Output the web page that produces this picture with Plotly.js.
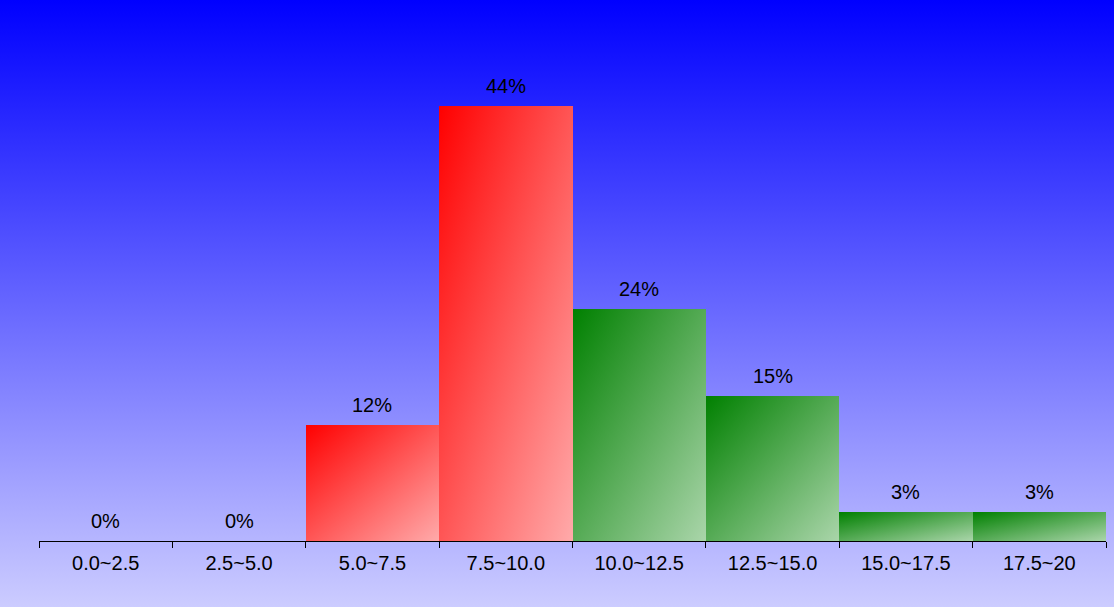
<!DOCTYPE html>
<html>
<head>
<meta charset="utf-8">
<script src="https://cdn.plot.ly/plotly-3.0.1.min.js"></script>
<style>
html,body{margin:0;padding:0;}
#chart{width:1114px;height:607px;background:linear-gradient(to bottom,#0000ff 0%,#ccccff 100%);}
</style>
</head>
<body>
<div id="chart"></div>
<script>
const categories = ["0.0~2.5","2.5~5.0","5.0~7.5","7.5~10.0","10.0~12.5","12.5~15.0","15.0~17.5","17.5~20"];
const counts = [0,0,12,45,24,15,3,3];
const groups = ["red","red","red","red","green","green","green","green"];

const total = counts.reduce((a,b)=>a+b,0);
const pctLabels = counts.map(c => Math.round(c/total*100) + "%");

const trace = {
  type: "bar",
  x: categories,
  y: counts,
  marker: {color: groups.map(g => g === "red" ? "#ff0000" : "#008000"), line: {width: 0}},
  hoverinfo: "none"
};

const annotations = categories.map((c,i) => ({
  x: c, y: counts[i], text: pctLabels[i], showarrow: false,
  xanchor: "center", yanchor: "bottom", yshift: 7,
  font: {family: "Liberation Sans, Arial, sans-serif", size: 20, color: "#000"}
}));

const layout = {
  width: 1114, height: 607,
  margin: {l: 39, r: 8, t: 10, b: 66},
  paper_bgcolor: "rgba(0,0,0,0)",
  plot_bgcolor: "rgba(0,0,0,0)",
  bargap: 0,
  showlegend: false,
  font: {family: "Liberation Sans, Arial, sans-serif", size: 20, color: "#000"},
  xaxis: {
    type: "category",
    showline: true, linecolor: "#000", linewidth: 1,
    ticks: "outside", tickson: "boundaries", ticklen: 6, tickcolor: "#000",
    ticklabelstandoff: 4,
    showgrid: false, zeroline: false,
    tickfont: {size: 20, color: "#000"}
  },
  yaxis: {
    range: [0, 54.9], visible: false, showgrid: false, zeroline: false
  },
  annotations: annotations
};

Plotly.newPlot("chart", [trace], layout, {displayModeBar: false, staticPlot: true}).then(gd => {
  const svg = gd.querySelector("svg.main-svg");
  const ns = "http://www.w3.org/2000/svg";
  let defs = svg.querySelector("defs");
  if (!defs) { defs = document.createElementNS(ns, "defs"); svg.insertBefore(defs, svg.firstChild); }
  function grad(id, c1, c2) {
    const g = document.createElementNS(ns, "linearGradient");
    g.setAttribute("id", id);
    g.setAttribute("x1", "0"); g.setAttribute("y1", "0");
    g.setAttribute("x2", "1"); g.setAttribute("y2", "1");
    const s1 = document.createElementNS(ns, "stop");
    s1.setAttribute("offset", "0"); s1.setAttribute("stop-color", c1);
    const s2 = document.createElementNS(ns, "stop");
    s2.setAttribute("offset", "1"); s2.setAttribute("stop-color", c2);
    g.appendChild(s1); g.appendChild(s2);
    defs.appendChild(g);
  }
  grad("gradRed", "#ff0000", "#ffaaaa");
  grad("gradGreen", "#008000", "#aad5aa");
  const paths = gd.querySelectorAll(".barlayer .point path");
  paths.forEach((p, i) => {
    const g = groups[i];
    p.style.fill = g === "red" ? "url(#gradRed)" : "url(#gradGreen)";
  });
});
</script>
</body>
</html>
